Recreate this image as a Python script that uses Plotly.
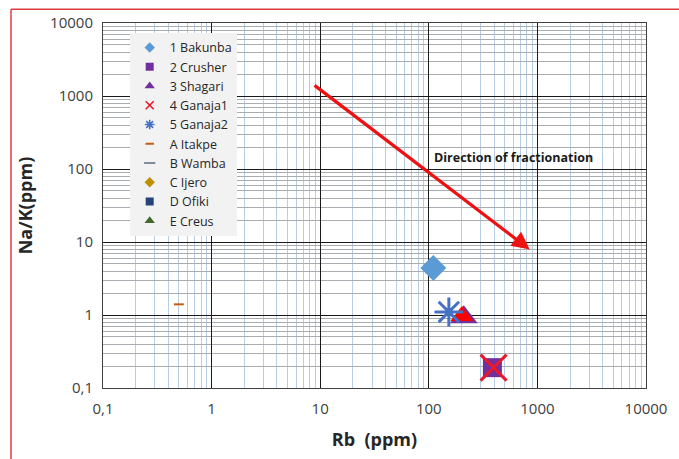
import numpy as np
import plotly.graph_objects as go

# ---- data ----
series_names = ["1 Bakunba", "2 Crusher", "3 Shagari", "4 Ganaja1", "5 Ganaja2",
                "A Itakpe", "B Wamba", "C Ijero", "D Ofiki", "E Creus"]
rb_values = {
    "1 Bakunba": [110],
    "2 Crusher": [385],
    "3 Shagari": [210],
    "4 Ganaja1": [395],
    "5 Ganaja2": [153],
    "A Itakpe": [0.5],
    "B Wamba": [],
    "C Ijero": [],
    "D Ofiki": [],
    "E Creus": [],
}
nak_values = {
    "1 Bakunba": [4.4],
    "2 Crusher": [0.19],
    "3 Shagari": [0.93],
    "4 Ganaja1": [0.19],
    "5 Ganaja2": [1.1],
    "A Itakpe": [1.4],
    "B Wamba": [],
    "C Ijero": [],
    "D Ofiki": [],
    "E Creus": [],
}
# overlapping red triangle drawn on the Shagari point
overlay_rb = [202]
overlay_nak = [0.97]

tick_vals = [0.1, 1, 10, 100, 1000, 10000]
tick_text = ["0,1", "1", "10", "100", "1000", "10000"]

arrow_start = (8.6, 1450)
arrow_end = (850, 7.9)
label_pos = (108, 145)

# ---- styles ----
styles = {
    "1 Bakunba": dict(symbol="diamond", color="#5B9BD5", size=20),
    "2 Crusher": dict(symbol="square", color="#7030A0", size=19),
    "3 Shagari": dict(symbol="triangle-up", color="#7030A0", size=24),
    "4 Ganaja1": dict(symbol="x-thin", color="#E8192C", size=26),
    "5 Ganaja2": dict(symbol="asterisk", color="#4472C4", size=24),
    "A Itakpe": dict(symbol="line-ew", color="#C55A11", size=7),
    "B Wamba": dict(symbol="line-ew", color="#7F8C9A", size=8),
    "C Ijero": dict(symbol="diamond", color="#BF9000", size=8),
    "D Ofiki": dict(symbol="square", color="#264478", size=8),
    "E Creus": dict(symbol="triangle-up", color="#43682B", size=8),
}
legend_sizes = {
    "1 Bakunba": 8, "2 Crusher": 8, "3 Shagari": 9, "4 Ganaja1": 8, "5 Ganaja2": 8,
    "A Itakpe": 6, "B Wamba": 8, "C Ijero": 8, "D Ofiki": 8, "E Creus": 9,
}


def make_marker(st, size):
    open_sym = st["symbol"] in ("x-thin", "asterisk", "line-ew")
    marker = dict(symbol=st["symbol"], size=size, color=st["color"])
    if open_sym:
        w = 2 if st["symbol"] == "line-ew" else (3 if size > 12 else 1.6)
        marker["line"] = dict(color=st["color"], width=w)
    else:
        marker["line"] = dict(width=0)
    return marker


fig = go.Figure()
# legend-only entries with small symbols
for name in series_names:
    st = styles[name]
    fig.add_trace(go.Scatter(x=[None], y=[None], mode="markers", name=name,
                             legendgroup=name, marker=make_marker(st, legend_sizes[name])))
# actual data
for name in series_names:
    st = styles[name]
    if not rb_values[name]:
        continue
    fig.add_trace(go.Scatter(x=rb_values[name], y=nak_values[name], mode="markers",
                             name=name, legendgroup=name, showlegend=False,
                             marker=make_marker(st, st["size"])))
    if name == "3 Shagari":
        fig.add_trace(go.Scatter(
            x=overlay_rb, y=overlay_nak, mode="markers", showlegend=False,
            legendgroup=name,
            marker=dict(symbol="triangle-up", size=20, color="#FF0000", line=dict(width=0))))

fig.add_annotation(
    x=np.log10(arrow_end[0]), y=np.log10(arrow_end[1]),
    ax=np.log10(arrow_start[0]), ay=np.log10(arrow_start[1]),
    xref="x", yref="y", axref="x", ayref="y",
    text="", showarrow=True, arrowhead=2, arrowsize=1.1, arrowwidth=3.2,
    arrowcolor="#EE1111")
fig.add_annotation(
    x=np.log10(label_pos[0]), y=np.log10(label_pos[1]), xref="x", yref="y",
    text="<b>Direction of fractionation</b>", showarrow=False, xanchor="left",
    font=dict(size=12.5, color="#1a1a1a", family="Open Sans"))

# red frame (top and left edges)
fig.add_shape(type="line", xref="paper", yref="paper",
              x0=(10 - 103) / 549, x1=1.1, y0=1 + 14 / 369, y1=1 + 14 / 369,
              line=dict(color="#E03C3C", width=1.5))
fig.add_shape(type="line", xref="paper", yref="paper",
              x0=(10 - 103) / 549, x1=(10 - 103) / 549, y0=1 + 14 / 369, y1=-0.3,
              line=dict(color="#E03C3C", width=1.5))

axis_common = dict(
    type="log", tickvals=tick_vals, ticktext=tick_text,
    showgrid=True, gridcolor="#1a1a1a", gridwidth=1,
    showline=True, linecolor="#404040", linewidth=1, mirror=True,
    ticks="", zeroline=False,
    tickfont=dict(size=15, color="#404040", family="Open Sans"),
)
fig.update_xaxes(**axis_common, range=[-1, 4], ticklabelstandoff=7,
                 minor=dict(showgrid=True, gridcolor="#B8CCE4", gridwidth=1, dtick="D1"),
                 title=dict(text="<b>Rb  (ppm)</b>", font=dict(size=18, color="#262626", family="Open Sans"),
                            standoff=16))
fig.update_yaxes(**axis_common, range=[-1, 4], ticklabelstandoff=6,
                 minor=dict(showgrid=True, gridcolor="#A9ADB2", gridwidth=1, dtick="D1"),
                 title=dict(text="<b>Na/K(ppm)</b>", font=dict(size=18, color="#262626", family="Open Sans"),
                            standoff=12))

fig.update_layout(
    width=679, height=459,
    margin=dict(l=103, r=27, t=20, b=70),
    paper_bgcolor="white", plot_bgcolor="white",
    showlegend=True,
    legend=dict(x=(130 - 103) / 549, y=1 - (30 - 20) / 369, xanchor="left", yanchor="top",
                bgcolor="#F2F2F2", borderwidth=0, tracegroupgap=0,
                font=dict(size=12.5, color="#262626", family="Open Sans"), itemsizing="trace",
                itemwidth=30),
    font=dict(family="Open Sans"),
)

fig.write_html("out.html")
